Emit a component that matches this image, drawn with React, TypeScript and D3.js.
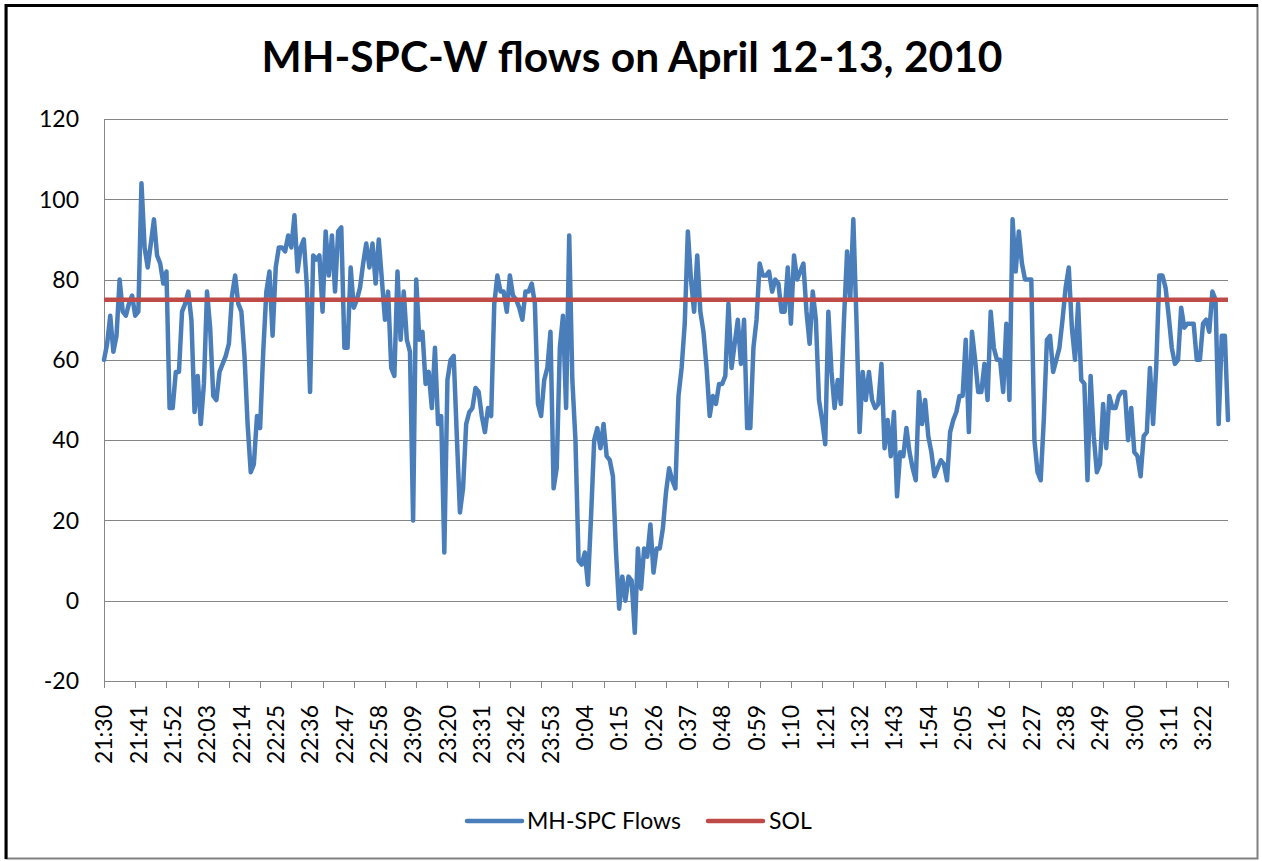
import React, { useEffect, useRef } from "react";
import * as d3 from "d3";

// MH-SPC flows, one reading per minute from 21:30 to 3:30
const flows: number[] = [
  60, 64, 71, 62, 66, 80, 72, 71, 74, 76,
  71, 72, 104, 88, 83, 89, 95, 86, 84, 79,
  82, 48, 48, 57, 57, 72, 74, 77, 70, 47,
  56, 44, 54, 77, 68, 51, 50, 57, 59, 61,
  64, 76, 81, 74, 72, 61, 44, 32, 34, 46,
  43, 62, 77, 82, 66, 83, 88, 88, 87, 91,
  88, 96, 82, 88, 90, 78, 52, 86, 85, 86,
  72, 92, 81, 91, 77, 92, 93, 63, 63, 83,
  73, 75, 78, 84, 89, 83, 89, 79, 90, 80,
  70, 77, 58, 56, 82, 65, 77, 65, 62, 20,
  80, 65, 67, 54, 57, 48, 63, 44, 46, 12,
  55, 60, 61, 41, 22, 28, 44, 47, 48, 53,
  52, 46, 42, 48, 46, 74, 81, 77, 77, 72,
  81, 76, 75, 73, 70, 77, 77, 79, 74, 49,
  46, 55, 58, 67, 28, 33, 63, 71, 48, 91,
  55, 40, 10, 9, 12, 4, 21, 40, 43, 38,
  44, 36, 35, 31, 12, -2, 6, 0, 6, 5,
  -8, 13, 3, 13, 11, 19, 7, 13, 13, 18,
  27, 33, 30, 28, 51, 58, 69, 92, 80, 72,
  86, 72, 67, 58, 46, 51, 49, 54, 54, 56,
  74, 58, 64, 70, 59, 70, 43, 43, 63, 70,
  84, 81, 81, 82, 77, 80, 79, 72, 72, 83,
  69, 86, 80, 82, 84, 72, 64, 77, 70, 50,
  45, 39, 72, 57, 48, 55, 49, 70, 87, 75,
  95, 70, 42, 57, 50, 57, 50, 48, 49, 59,
  38, 45, 36, 47, 26, 37, 36, 43, 37, 33,
  30, 52, 44, 50, 41, 37, 31, 33, 35, 34,
  30, 42, 45, 47, 51, 51, 65, 42, 67, 60,
  52, 52, 59, 50, 72, 63, 60, 60, 52, 69,
  50, 95, 82, 92, 84, 80, 80, 80, 40, 32,
  30, 45, 65, 66, 57, 60, 63, 70, 78, 83,
  68, 60, 74, 55, 54, 30, 56, 41, 32, 34,
  49, 38, 51, 48, 48, 51, 52, 52, 40, 48,
  37, 36, 31, 41, 42, 58, 44, 58, 81, 81,
  78, 71, 63, 59, 60, 73, 68, 69, 69, 69,
  60, 60, 69, 70, 67, 77, 75, 44, 66, 66,
  45,
];

// SOL limit (constant)
const solLevel = 75;

// x labels shown every 11 minutes
const timeLabels = [
  "21:30", "21:41", "21:52", "22:03", "22:14", "22:25", "22:36", "22:47", "22:58",
  "23:09", "23:20", "23:31", "23:42", "23:53", "0:04", "0:15", "0:26", "0:37",
  "0:48", "0:59", "1:10", "1:21", "1:32", "1:43", "1:54", "2:05", "2:16", "2:27",
  "2:38", "2:49", "3:00", "3:11", "3:22",
];
const labelStep = 11;
const tickStep = 10;

const yTicks = [-20, 0, 20, 40, 60, 80, 100, 120];

const title = "MH-SPC-W flows on April 12-13, 2010";
const seriesNames = ["MH-SPC Flows", "SOL"];
const colors = ["#4a7ebb", "#be4b48"];

const W = 1262, H = 861;
const font = "Lato, 'Open Sans', sans-serif";

export default function App() {
  const ref = useRef<SVGSVGElement>(null);

  useEffect(() => {
    const svg = d3.select(ref.current);
    svg.selectAll("*").remove();

    // frame
    svg.append("rect").attr("width", W).attr("height", H).attr("fill", "#fff");
    svg.append("rect")
      .attr("x", 6.5).attr("y", 5.5).attr("width", 1251).attr("height", 853)
      .attr("fill", "none").attr("stroke", "#808080").attr("stroke-width", 2);
    svg.append("path").attr("d", "M6,859V5.5H1258")
      .attr("fill", "none").attr("stroke", "#000").attr("stroke-width", 3);

    const x = d3.scaleLinear().domain([0, flows.length - 1]).range([104, 1228]);
    const y = d3.scaleLinear().domain([-20, 120]).range([681, 119]);

    // gridlines
    svg.append("g").selectAll("line").data(yTicks.slice(1)).join("line")
      .attr("x1", 104).attr("x2", 1228)
      .attr("y1", (d) => Math.round(y(d)) + 0.5).attr("y2", (d) => Math.round(y(d)) + 0.5)
      .attr("stroke", "#868686").attr("stroke-width", 1);

    // axes lines
    svg.append("line").attr("x1", 104).attr("x2", 1228).attr("y1", 681.5).attr("y2", 681.5)
      .attr("stroke", "#868686");
    svg.append("line").attr("x1", 104.5).attr("x2", 104.5).attr("y1", 119).attr("y2", 682)
      .attr("stroke", "#868686");

    // y labels
    svg.append("g").selectAll("text").data(yTicks).join("text")
      .attr("x", 79).attr("y", (d) => y(d))
      .attr("dy", "0.36em").attr("text-anchor", "end")
      .style("font-family", font).style("font-size", "23px").attr("fill", "#000")
      .text((d) => d);

    // x ticks
    const tickIdx = d3.range(0, flows.length, tickStep);
    svg.append("g").selectAll("line").data(tickIdx).join("line")
      .attr("x1", (d) => Math.round(x(d)) + 0.5).attr("x2", (d) => Math.round(x(d)) + 0.5)
      .attr("y1", 681).attr("y2", 688)
      .attr("stroke", "#868686");

    // x labels
    svg.append("g").selectAll("text").data(timeLabels).join("text")
      .attr("transform", (d, i) => `translate(${x(i * labelStep)}, 705) rotate(-90)`)
      .attr("dy", "0.36em").attr("text-anchor", "end")
      .style("font-family", font).style("font-size", "23px").attr("fill", "#000")
      .text((d) => d);

    // flows line
    const line = d3.line<number>().x((d, i) => x(i)).y((d) => y(d));
    svg.append("path").datum(flows).attr("d", line)
      .attr("fill", "none").attr("stroke", colors[0]).attr("stroke-width", 4.5)
      .attr("stroke-linejoin", "round").attr("stroke-linecap", "round");

    // SOL line
    svg.append("line")
      .attr("x1", x(0)).attr("x2", x(flows.length - 1))
      .attr("y1", y(solLevel)).attr("y2", y(solLevel))
      .attr("stroke", colors[1]).attr("stroke-width", 4.5);

    // title
    svg.append("text").attr("x", 632).attr("y", 72).attr("text-anchor", "middle")
      .style("font-family", font).style("font-size", "42.5px").style("font-weight", "bold")
      .attr("fill", "#000").text(title);

    // legend
    const legendX = [467, 708];
    const legendTextX = [527, 769];
    seriesNames.forEach((name, i) => {
      svg.append("line").attr("x1", legendX[i]).attr("x2", legendX[i] + 55)
        .attr("y1", 821).attr("y2", 821)
        .attr("stroke", colors[i]).attr("stroke-width", 4.5).attr("stroke-linecap", "round");
      svg.append("text").attr("x", legendTextX[i]).attr("y", 829)
        .style("font-family", font).style("font-size", "23px").attr("fill", "#000")
        .text(name);
    });
  }, []);

  return (
    <div style={{ position: "absolute", left: 0, top: 0 }}>
      <svg ref={ref} width={W} height={H} style={{ display: "block" }} />
    </div>
  );
}
